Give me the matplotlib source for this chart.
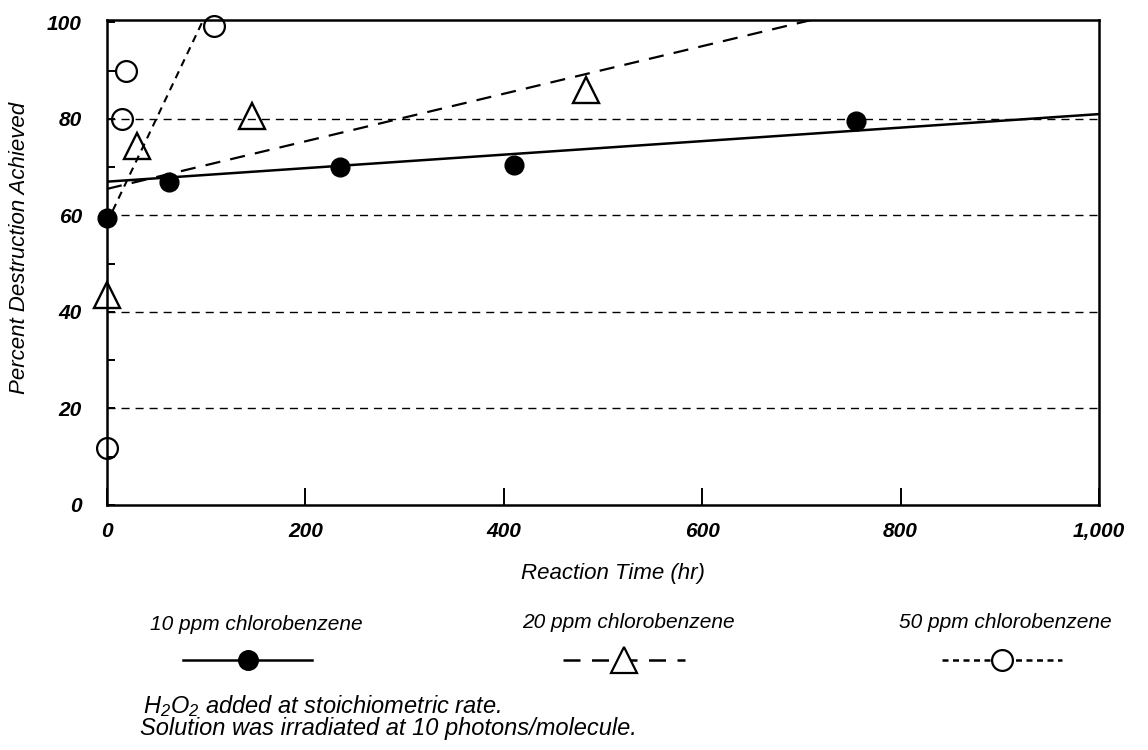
import matplotlib
matplotlib.use("Agg")
import matplotlib.pyplot as plt
from matplotlib.lines import Line2D

plt.rcParams['font.family'] = ['Liberation Sans', 'DejaVu Sans']
plt.rcParams['font.style'] = 'italic'
plt.rcParams['mathtext.fontset'] = 'custom'
plt.rcParams['mathtext.rm'] = 'Liberation Sans:italic'
plt.rcParams['mathtext.it'] = 'Liberation Sans:italic'

# 10 ppm chlorobenzene (filled circles)
x10 = [0, 62, 235, 410, 755]
y10 = [59.5, 67.0, 70.0, 70.5, 79.5]
fit10_x = [0, 1000]
fit10_y = [67.0, 81.0]

# 20 ppm chlorobenzene (open triangles)
x20 = [0, 30, 146, 483]
y20 = [43.6, 74.3, 80.6, 85.9]
fit20_x = [0, 710]
fit20_y = [65.5, 100.5]

# 50 ppm chlorobenzene (open circles)
x50 = [0, 15, 19, 108]
y50 = [11.8, 80.0, 90.0, 99.3]
fit50_x = [0, 97]
fit50_y = [58.5, 100.5]

xticks = [0, 200, 400, 600, 800, 1000]
xticklabels = ['0', '200', '400', '600', '800', '1,000']
yticks = [0, 20, 40, 60, 80, 100]
grid_y = [20, 40, 60, 80]

fig = plt.figure(figsize=(11.48, 7.5), dpi=100)
ax = fig.add_axes([107 / 1148, 1 - 505 / 750, 992 / 1148, 485 / 750])

ax.set_xlim(0, 1000)
ax.set_ylim(0, 100.5)

ax.set_yticks(yticks)
ax.set_yticks([10, 30, 50, 70, 90], minor=True)

# dashed horizontal grid
for g in grid_y:
    ax.axhline(g, color='black', linewidth=1.0, linestyle=(0, (5.8, 4.3)), zorder=1)

# fitted lines
ax.plot(fit10_x, fit10_y, color='black', linewidth=1.8, solid_capstyle='butt')
ax.plot(fit20_x, fit20_y, color='black', linewidth=1.6,
        linestyle=(0, (6.8, 4.6)))
ax.plot(fit50_x, fit50_y, color='black', linewidth=1.5,
        linestyle=(0, (3.6, 2.8)))

# data markers
ax.plot(x10, y10, linestyle='none', marker='o', markersize=13.5,
        markerfacecolor='black', markeredgecolor='black', clip_on=False, zorder=5)
ax.plot(x20, y20, linestyle='none', marker='^', markersize=19,
        markerfacecolor='none', markeredgecolor='black', markeredgewidth=1.7,
        clip_on=False, zorder=5)
ax.plot(x50, y50, linestyle='none', marker='o', markersize=15,
        markerfacecolor='none', markeredgecolor='black', markeredgewidth=1.6,
        clip_on=False, zorder=5)

for s in ax.spines.values():
    s.set_linewidth(1.8)

ax.set_xticks(xticks)
ax.set_xticklabels(xticklabels)
ax.tick_params(axis='x', direction='in', length=12, width=1.4, pad=12,
               labelsize=15)
ax.tick_params(axis='y', which='both', direction='in', length=6, width=1.4,
               pad=18, labelsize=15)
for lab in ax.get_xticklabels() + ax.get_yticklabels():
    lab.set_fontweight('bold')

fig.text(613 / 1148, 1 - 573 / 750, 'Reaction Time (hr)', fontsize=16,
         ha='center', va='center')
fig.text(20 / 1148, 1 - 248 / 750, 'Percent Destruction Achieved', fontsize=16,
         ha='center', va='center', rotation=90)

# legend drawn by hand below the chart
leg_y = 1 - 660 / 750
items = [
    ('10 ppm chlorobenzene', 256, 625, 183, 312, '-', 'o', 'black', 13.5),
    ('20 ppm chlorobenzene', 628, 623, 563, 685, (0, (6.8, 4.6)), '^', 'white', 19),
    ('50 ppm chlorobenzene', 1005, 622, 942, 1062, (0, (2.4, 1.8)), 'o', 'white', 15),
]
for text, tx, ty, x0, x1, ls, mk, fc, ms in items:
    fig.text(tx / 1148, 1 - ty / 750, text, fontsize=15, ha='center', va='center')
    fig.add_artist(Line2D([x0 / 1148, x1 / 1148], [leg_y, leg_y], color='black',
                          linewidth=1.8, linestyle=ls, transform=fig.transFigure))
    fig.add_artist(Line2D([(x0 + x1) / 2 / 1148], [leg_y], marker=mk,
                          markersize=ms, markerfacecolor=fc,
                          markeredgecolor='black', markeredgewidth=1.6,
                          transform=fig.transFigure))

fig.text(143 / 1148, 1 - 706 / 750, 'H$_2$O$_2$ added at stoichiometric rate.',
         fontsize=17, ha='left', va='center')
fig.text(140 / 1148, 1 - 729 / 750, 'Solution was irradiated at 10 photons/molecule.',
         fontsize=17, ha='left', va='center')

fig.savefig('out.png', dpi=100)
